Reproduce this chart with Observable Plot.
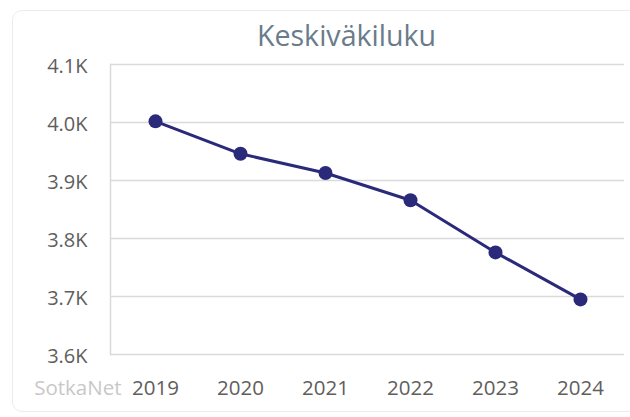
<!DOCTYPE html>
<html><head><meta charset="utf-8">
<script src="https://cdn.jsdelivr.net/npm/d3@7"></script>
<script src="https://cdn.jsdelivr.net/npm/@observablehq/plot@0.6"></script>
<style>
body{margin:0;background:#fff;overflow:hidden;}
#card{position:absolute;left:12px;top:10px;width:660px;height:402px;border:1px solid #ececec;border-radius:10px;box-sizing:border-box;}
#chart{position:absolute;left:0;top:0;}
</style></head><body>
<div id="card"></div><div id="chart"></div>
<script>
const years = ["2019", "2020", "2021", "2022", "2023", "2024"];
const values = [4002, 3946, 3913, 3866, 3776, 3695];
const yTicks = [3600, 3700, 3800, 3900, 4000, 4100];
const title = "Keskiväkiluku";
const source = "SotkaNet";

const data = years.map((y, i) => ({year: y, value: values[i]}));
const font = "'Open Sans', 'Noto Sans', sans-serif";

const chart = Plot.plot({
  width: 630,
  height: 417,
  marginLeft: 110,
  marginRight: 6,
  marginTop: 64,
  marginBottom: 63,
  style: {fontFamily: font, fontSize: "20px", color: "#605e5c", background: "transparent"},
  x: {type: "point", domain: years, padding: 0.5, label: null},
  y: {domain: [3600, 4100], ticks: yTicks, label: null},
  marks: [
    Plot.gridY(yTicks, {stroke: "#dadada", strokeOpacity: 1, strokeWidth: 1.5}),
    Plot.frame({anchor: "left", stroke: "#dadada", strokeWidth: 1.5}),
    Plot.axisY(yTicks, {tickSize: 0, tickPadding: 23, dy: 2, tickFormat: d => (d / 1000).toFixed(1) + "K", fill: "#605e5c", fontSize: 20}),
    Plot.axisX({tickSize: 0, tickPadding: 26, fill: "#605e5c", fontSize: 20.5}),
    Plot.line(data, {x: "year", y: "value", stroke: "#2b2a7a", strokeWidth: 3}),
    Plot.dot(data, {x: "year", y: "value", r: 7, fill: "#2b2a7a", stroke: "none"}),
    Plot.text([title], {frameAnchor: "top", dy: -28, dx: -21, fontSize: 28.6, fill: "#6a7b8c", lineAnchor: "middle"}),
    Plot.text([source], {frameAnchor: "bottom-left", textAnchor: "end", dx: 11, dy: 33.5, fontSize: 20.5, fill: "#c8c8c8", lineAnchor: "middle"})
  ]
});
document.getElementById("chart").appendChild(chart);
</script>
</body></html>
